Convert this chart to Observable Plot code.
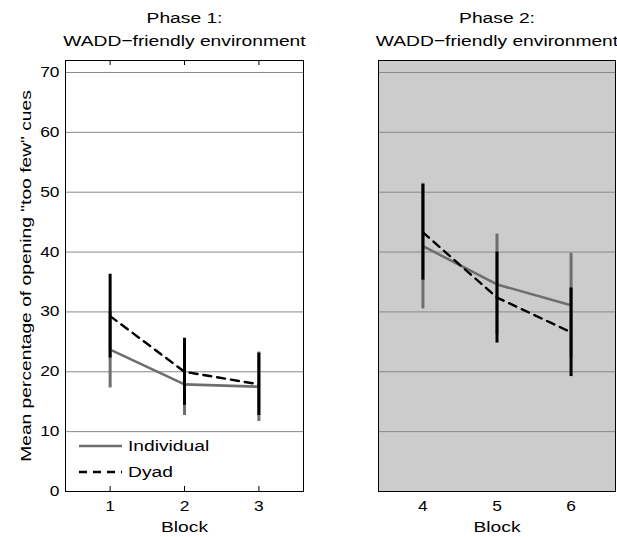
<!DOCTYPE html>
<html>
<head>
<meta charset="utf-8">
<script src="https://cdn.jsdelivr.net/npm/d3@7"></script>
<script src="https://cdn.jsdelivr.net/npm/@observablehq/plot@0.6"></script>
<style>
  html, body { margin: 0; padding: 0; background: #fff; }
  #chart { position: relative; width: 617px; height: 537px; font-family: "Liberation Sans", Arial, Helvetica, sans-serif; }
  #chart svg { overflow: visible; }
  .panel { position: absolute; top: 0; }
  #legend { position: absolute; left: 76px; top: 433px; font-size: 15.5px; color: #000; }
  #legend .row { display: flex; align-items: center; height: 26px; }
  #legend svg { margin-right: 4px; }
  #legend span { display: inline-block; transform: scaleX(1.24); transform-origin: left center; }
</style>
</head>
<body>
<div id="chart"></div>
<script>
// ---- data ----
const phases = ["Phase 1:\nWADD\u2212friendly environment", "Phase 2:\nWADD\u2212friendly environment"];
const blocks = [1, 2, 3, 4, 5, 6];
const phaseOfBlock = [0, 0, 0, 1, 1, 1];
const individualMean = [23.7, 17.9, 17.5, 41.0, 34.6, 31.1];
const individualErr  = [6.4, 5.2, 5.8, 10.5, 8.4, 8.7];
const dyadMean = [29.3, 20.0, 17.9, 43.3, 32.4, 26.6];
const dyadErr  = [7.0, 5.6, 5.2, 8.0, 7.6, 7.4];
const yTicks = [0, 10, 20, 30, 40, 50, 60, 70];
const gridTicks = [10, 20, 30, 40, 50, 60, 70];
const xTicksByPhase = [[1, 2, 3], [4, 5, 6]];
const seriesNames = ["Individual", "Dyad"];
const yLabel = 'Mean percentage of opening "too few" cues';
const xLabel = "Block";

const grayC = "#6e6e6e";
const font = '"Liberation Sans", Arial, Helvetica, sans-serif';
const STRETCH = 1.24;

const rows = blocks.map((b, i) => ({
  block: b, phase: phaseOfBlock[i],
  im: individualMean[i], ie: individualErr[i],
  dm: dyadMean[i], de: dyadErr[i]
}));

function panel(p, opts) {
  const data = rows.filter(d => d.phase === p);
  const ticks = xTicksByPhase[p];
  const innerH = opts.height - opts.marginTop - opts.marginBottom;
  const marks = [];
  if (p === 1) marks.push(Plot.frame({fill: "#cccccc"}));
  marks.push(Plot.ruleY(gridTicks, {stroke: "#888888", strokeWidth: 1}));
  marks.push(Plot.ruleX(data, {x: "block", y1: d => d.im - d.ie, y2: d => d.im + d.ie, stroke: grayC, strokeWidth: 3}));
  marks.push(Plot.line(data, {x: "block", y: "im", stroke: grayC, strokeWidth: 2.6}));
  marks.push(Plot.ruleX(data, {x: "block", y1: d => d.dm - d.de, y2: d => d.dm + d.de, stroke: "black", strokeWidth: 3}));
  marks.push(Plot.line(data, {x: "block", y: "dm", stroke: "black", strokeWidth: 2.4, strokeDasharray: "8,6"}));
  marks.push(Plot.frame({stroke: "black", strokeWidth: 1}));
  if (p === 0) {
    marks.push(Plot.ruleX(ticks, {stroke: "black", insetTop: innerH - 5}));
    marks.push(Plot.ruleX(ticks, {stroke: "black", insetBottom: innerH - 5}));
    marks.push(Plot.axisY({ticks: yTicks, tickSize: 0, tickPadding: 6, label: null, fontSize: 14}));
    marks.push(Plot.text([yLabel], {frameAnchor: "left", textAnchor: "middle", lineAnchor: "middle", rotate: -90, dx: -39, fontSize: 15.5, fill: "black"}));
  }
  marks.push(Plot.axisX({ticks: ticks, tickSize: 0, tickPadding: 10, label: null, fontSize: 14, tickFormat: d => String(d)}));
  marks.push(Plot.text([xLabel], {frameAnchor: "bottom", lineAnchor: "bottom", dy: 40, fontSize: 15.5, fill: "black"}));
  marks.push(Plot.text([phases[p]], {frameAnchor: "top", lineAnchor: "bottom", dy: -15, lineHeight: 1.44, fontSize: 15.5, fill: "black"}));
  return Plot.plot({
    width: opts.width, height: opts.height,
    marginLeft: opts.marginLeft, marginRight: opts.marginRight,
    marginTop: opts.marginTop, marginBottom: opts.marginBottom,
    style: {fontFamily: font, fontSize: "14px", color: "black", background: "transparent"},
    x: {domain: [ticks[0] - 0.6, ticks[2] + 0.6], axis: null},
    y: {domain: [0, 72], axis: null},
    marks
  });
}

// horizontally widen glyphs (reference text is stretched) once in the DOM
function stretchText(svg) {
  svg.querySelectorAll("text").forEach(t => {
    const spans = t.querySelectorAll("tspan");
    const targets = spans.length ? Array.from(spans) : [t];
    targets.forEach(el => {
      const len = el.getComputedTextLength();
      if (len > 0) {
        el.setAttribute("textLength", (len * STRETCH).toFixed(2));
        el.setAttribute("lengthAdjust", "spacingAndGlyphs");
      }
    });
  });
}

const chart = document.getElementById("chart");
const p1 = panel(0, {width: 310, height: 537, marginLeft: 65, marginRight: 7, marginTop: 60, marginBottom: 46});
p1.classList.add("panel"); p1.style.left = "0px";
const p2 = panel(1, {width: 307, height: 537, marginLeft: 68, marginRight: 2, marginTop: 60, marginBottom: 46});
p2.classList.add("panel"); p2.style.left = "310px";
chart.appendChild(p1);
chart.appendChild(p2);
stretchText(p1);
stretchText(p2);

// legend
const legend = document.createElement("div");
legend.id = "legend";
const styles = [{stroke: grayC, dash: null, w: 2.6}, {stroke: "black", dash: "8,6", w: 2.4}];
seriesNames.forEach((name, i) => {
  const row = document.createElement("div");
  row.className = "row";
  const s = styles[i];
  row.innerHTML = `<svg width="48" height="10"><line x1="3" x2="46" y1="5" y2="5" stroke="${s.stroke}" stroke-width="${s.w}" ${s.dash ? `stroke-dasharray="${s.dash}"` : ""}/></svg><span>${name}</span>`;
  legend.appendChild(row);
});
chart.appendChild(legend);
</script>
</body>
</html>
